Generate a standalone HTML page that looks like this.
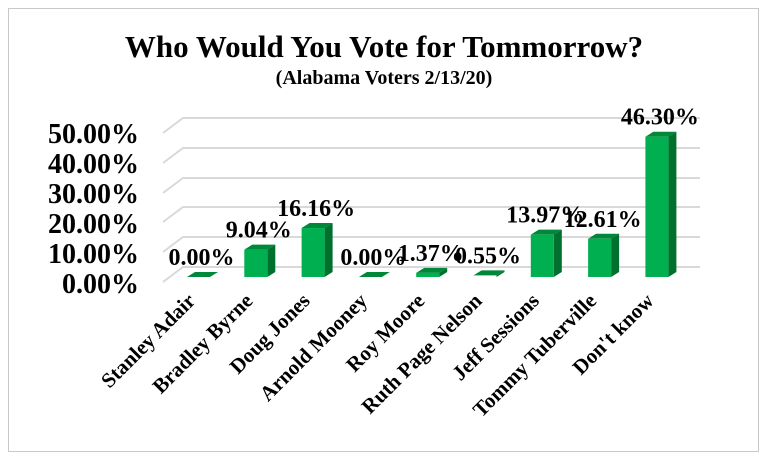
<!DOCTYPE html>
<html><head><style>
body{margin:0;background:#fff}
svg{display:block;font-family:"Liberation Serif",serif;font-weight:bold}
</style></head><body>
<svg width="768" height="462" viewBox="0 0 768 462">
<rect x="8.5" y="8.5" width="750" height="443" fill="#fff" stroke="#c8c8c8"/>
<text x="384" y="57" font-size="31" text-anchor="middle">Who Would You Vote for Tommorrow?</text>
<text x="384" y="84" font-size="20" text-anchor="middle">(Alabama Voters 2/13/20)</text>
<g stroke="#d9d9d9" stroke-width="2" fill="none">
<polyline points="163,282 183,267 700,267"/>
<polyline points="163,252 183,237 700,237"/>
<polyline points="163,222 183,207 700,207"/>
<polyline points="163,193 183,178 700,178"/>
<polyline points="163,163 183,148 700,148"/>
<polyline points="163,133 183,118 700,118"/>
</g>
<g font-size="28" text-anchor="end">
<text x="139" y="293">0.00%</text>
<text x="139" y="263">10.00%</text>
<text x="139" y="233">20.00%</text>
<text x="139" y="203">30.00%</text>
<text x="139" y="173">40.00%</text>
<text x="139" y="143">50.00%</text>
</g>
<g id="bars"></g>
</svg>
<script>
const d=[["Stanley Adair",0,"0.00%"],["Bradley Byrne",9.04,"9.04%"],["Doug Jones",16.16,"16.16%"],["Arnold Mooney",0,"0.00%"],["Roy Moore",1.37,"1.37%"],["Ruth Page Nelson",0.55,"0.55%"],["Jeff Sessions",13.97,"13.97%"],["Tommy Tuberville",12.61,"12.61%"],["Don't know",46.30,"46.30%"]];
let s="";
d.forEach((r,i)=>{const x=187+57.3*i,w=23,b=277,t=b-r[1]*3.03,cx=x+w/2;
s+=`<polygon points="${x},${t} ${x+8},${t-5} ${x+w+8},${t-5} ${x+w},${t}" fill="#00883a"/>`;
s+=`<polygon points="${x+w},${t} ${x+w+8},${t-5} ${x+w+8},${b-5} ${x+w},${b}" fill="#00702f"/>`;
if(r[1]>0.6)s+=`<rect x="${x}" y="${t}" width="${w}" height="${b-t}" fill="#00b050"/>`;
s+=`<text x="${cx+3}" y="${t-12}" font-size="24" text-anchor="middle">${r[2]}</text>`;
s+=`<text transform="translate(${cx-2},302) rotate(-45)" font-size="21" text-anchor="end">${r[0].replace("'","&#39;")}</text>`;});
document.getElementById("bars").innerHTML=s;
</script>
</body></html>
